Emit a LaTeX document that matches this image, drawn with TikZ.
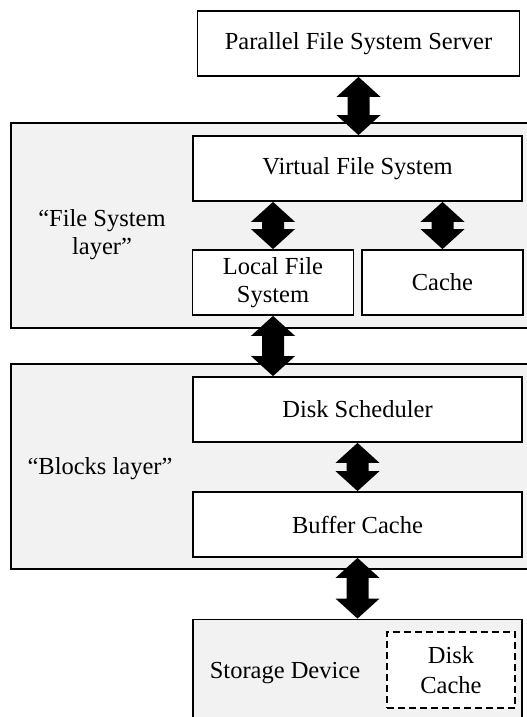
\documentclass[tikz,border=0pt]{standalone}
\usepackage{fontspec}
\setmainfont{Liberation Serif}
\usetikzlibrary{calc}

\tikzset{
  block/.style={draw, line width=1.8pt, fill=white, minimum height=65pt, align=center, inner sep=0pt},
  layer/.style={draw, line width=1.8pt, fill=black!5, minimum width=530pt, minimum height=205pt},
  cachebox/.style={draw, line width=1.8pt, dash pattern=on 7pt off 4pt, fill=white, align=center},
}
% fat double-headed arrow between two points on one vertical
\newcommand{\bigarrow}[2]{%
  \fill let \p1=(#1), \p2=(#2) in
    (\x1,\y1) -- (\x1+22pt,\y1-20pt) -- (\x1+11pt,\y1-20pt) -- (\x1+11pt,\y2+20pt)
    -- (\x1+22pt,\y2+20pt) -- (\x1,\y2) -- (\x1-22pt,\y2+20pt) -- (\x1-11pt,\y2+20pt)
    -- (\x1-11pt,\y1-20pt) -- (\x1-22pt,\y1-20pt) -- cycle;}

\begin{document}
\begin{tikzpicture}[x=1pt, y=-1pt, font=\fontsize{24.5}{28}\selectfont]
    \useasboundingbox (0,0) rectangle (527,717);
    \clip (0,0) rectangle (527,717);

    % layers
    \node[layer] (fsl) at (276,225.5) {};
    \node[layer] (bkl) at (276,466.5) {};
    \node[align=center] (fsltext) at (102,235) {``File System\\layer''};
    \node (bkltext) at (100,469) {``Blocks layer''};

    % boxes
    \node[block, minimum width=322pt] (pfs) at (358.5,43.5) {Parallel File System Server};
    \node[block, minimum width=329pt] (vfs) at (357.5,168.5) {Virtual File System};
    \node[block, minimum width=161pt] (lfs) at (273,282.5) {Local File\\System};
    \node[block, minimum width=161pt] (cache) at (442.5,282.5) {Cache};
    \node[block, minimum width=329pt] (ds) at (357.5,409.5) {Disk Scheduler};
    \node[block, minimum width=329pt] (bc) at (357.5,524.5) {Buffer Cache};

    % device
    \node[block, fill=black!5, minimum width=329pt, minimum height=140pt] (sd) at (357.5,689.5) {};
    \node (sdtext) at (285,673) {Storage Device};
    \node[cachebox, minimum width=128pt, minimum height=76pt, inner sep=0pt, font=\fontsize{24.5}{30}\selectfont] (dc) at (451,670) {Disk\\Cache};

    % arrows
    \bigarrow{pfs.south}{vfs.north}
    \bigarrow{vfs.south -| lfs.north}{lfs.north}
    \bigarrow{vfs.south -| cache.north}{cache.north}
    \bigarrow{lfs.south}{ds.north -| lfs.south}
    \bigarrow{ds.south}{bc.north}
    \bigarrow{bc.south}{sd.north}
\end{tikzpicture}
\end{document}
